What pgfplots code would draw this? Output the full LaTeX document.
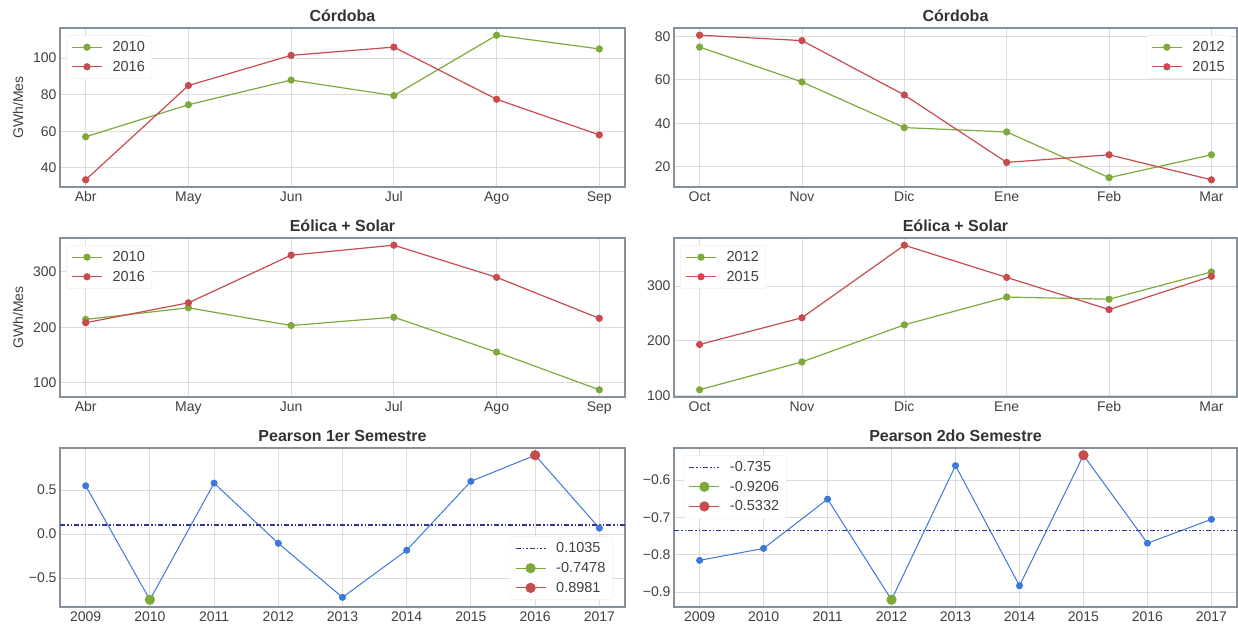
\documentclass[border=0pt]{standalone}
\usepackage{fontspec}
\setmainfont{Liberation Sans}
\usepackage{pgfplots}
\pgfplotsset{compat=1.18}

\definecolor{cgreen}{HTML}{7DAA3A}
\definecolor{cred}{HTML}{C84B4D}
\definecolor{cblue}{HTML}{3C78D8}
\definecolor{cnavy}{HTML}{34349A}
\definecolor{cgrid}{HTML}{DCDCDC}
\definecolor{cspine}{HTML}{86909B}
\definecolor{ctext}{HTML}{404040}
\definecolor{ctitle}{HTML}{333333}

\pgfplotsset{
  panel/.style={
    scale only axis, width=565pt, height=159pt,
    anchor=south west,
    /pgf/number format/assume math mode=true,
    axis line style={cspine, line width=1.2pt},
    grid=major, major grid style={cgrid, line width=0.9pt},
    major tick length=0pt,
    tick label style={font=\fontsize{14}{16}\selectfont, text=ctext},
    xticklabel style={yshift=-1pt},
    every axis title/.style={font=\fontsize{16}{18}\selectfont\bfseries, text=ctitle,
      at={(0.5,1)}, anchor=base, yshift=6pt},
    every axis y label/.style={at={(axis description cs:-0.0743,0.5)}, rotate=90,
      anchor=center, font=\fontsize{14}{16}\selectfont, text=ctext},
    legend cell align=left,
    legend style={font=\fontsize{14.5}{17}\selectfont, text=ctext, draw=black!7,
      fill=white, rounded corners=2.5pt, inner xsep=5pt, inner ysep=4pt, row sep=4pt},
    legend image code/.code={%
      \draw[mark repeat=2, mark phase=2] plot coordinates {(0pt,0pt) (15pt,0pt) (30pt,0pt)};
      \path (38pt,0pt);},
    every axis plot/.append style={line width=1.2pt, mark=*, mark size=3pt},
  },
  months/.style={xmin=-0.25, xmax=5.25, xtick={0,1,2,3,4,5}},
  years/.style={xmin=-0.4, xmax=8.4, xtick={0,1,2,3,4,5,6,7,8},
    xticklabels={2009,2010,2011,2012,2013,2014,2015,2016,2017}},
  meanline/.style={cnavy, line width=1.1pt, mark=none,
    dash pattern=on 5pt off 2pt on 1.5pt off 2pt on 1.5pt off 2pt},
  corr/.style={cblue, line width=1pt, mark size=3pt, forget plot},
  extreme/.style={mark size=4.5pt},
}

\begin{document}
\begin{tikzpicture}[x=1pt,y=1pt]
\useasboundingbox (0,0) rectangle (1238,631);

% ---- Córdoba, first semester ----
\begin{axis}[panel, months, at={(60pt,444pt)}, title={Córdoba}, ylabel={GWh/Mes},
  ymin=29.55, ymax=116.45, ytick={40,60,80,100},
  xticklabels={Abr,May,Jun,Jul,Ago,Sep},
  legend style={at={(0.011,0.955)}, anchor=north west}]
\addplot[cgreen] coordinates {(0,57) (1,74.5) (2,88) (3,79.5) (4,112.5) (5,105)};
\addlegendentry{2010}
\addplot[cred] coordinates {(0,33.5) (1,85) (2,101.5) (3,106) (4,77.5) (5,58)};
\addlegendentry{2016}
\end{axis}

% ---- Córdoba, second semester ----
\begin{axis}[panel, months, at={(674pt,444pt)}, width=563pt, title={Córdoba},
  ymin=10.7, ymax=83.8, ytick={20,40,60,80},
  xticklabels={Oct,Nov,Dic,Ene,Feb,Mar},
  legend style={at={(0.991,0.955)}, anchor=north east}]
\addplot[cgreen] coordinates {(0,75) (1,59) (2,38) (3,36) (4,15) (5,25.5)};
\addlegendentry{2012}
\addplot[cred] coordinates {(0,80.5) (1,78) (2,53) (3,22) (4,25.5) (5,14)};
\addlegendentry{2015}
\end{axis}

% ---- Eólica + Solar, first semester ----
\begin{axis}[panel, months, at={(60pt,234pt)}, title={Eólica + Solar}, ylabel={GWh/Mes},
  ymin=74, ymax=361, ytick={100,200,300},
  xticklabels={Abr,May,Jun,Jul,Ago,Sep},
  legend style={at={(0.011,0.955)}, anchor=north west}]
\addplot[cgreen] coordinates {(0,214) (1,235) (2,203) (3,218) (4,155) (5,87)};
\addlegendentry{2010}
\addplot[cred] coordinates {(0,208) (1,244) (2,330) (3,348) (4,290) (5,216)};
\addlegendentry{2016}
\end{axis}

% ---- Eólica + Solar, second semester ----
\begin{axis}[panel, months, at={(674pt,234pt)}, width=563pt, title={Eólica + Solar},
  ymin=96.75, ymax=388.25, ytick={100,200,300},
  xticklabels={Oct,Nov,Dic,Ene,Feb,Mar},
  legend style={at={(0.011,0.955)}, anchor=north west}]
\addplot[cgreen] coordinates {(0,110) (1,161) (2,229) (3,280) (4,276) (5,326)};
\addlegendentry{2012}
\addplot[cred] coordinates {(0,193) (1,242) (2,375) (3,316) (4,257) (5,318)};
\addlegendentry{2015}
\end{axis}

% ---- Pearson, first semester ----
\begin{axis}[panel, years, at={(60pt,24pt)}, title={Pearson 1er Semestre},
  ymin=-0.830, ymax=0.980, ytick={-0.5,0,0.5}, yticklabels={−0.5,0.0,0.5},
  legend style={at={(0.978,0.045)}, anchor=south east}]
\addplot[corr] coordinates {
  (0,0.55) (1,-0.7478) (2,0.58) (3,-0.105) (4,-0.72) (5,-0.184) (6,0.60) (7,0.8981) (8,0.068)};
\addplot[meanline] coordinates {(-0.4,0.1035) (8.4,0.1035)};
\addlegendentry{0.1035}
\addplot[cgreen, extreme] coordinates {(1,-0.7478)};
\addlegendentry{-0.7478}
\addplot[cred, extreme] coordinates {(7,0.8981)};
\addlegendentry{0.8981}
\end{axis}

% ---- Pearson, second semester ----
\begin{axis}[panel, years, at={(674pt,24pt)}, width=563pt, title={Pearson 2do Semestre},
  ymin=-0.94, ymax=-0.5138, ytick={-0.9,-0.8,-0.7,-0.6}, yticklabels={−0.9,−0.8,−0.7,−0.6},
  legend style={at={(0.017,0.955)}, anchor=north west}]
\addplot[corr] coordinates {
  (0,-0.815) (1,-0.783) (2,-0.651) (3,-0.9206) (4,-0.561) (5,-0.883) (6,-0.5332) (7,-0.769) (8,-0.705)};
\addplot[meanline] coordinates {(-0.4,-0.735) (8.4,-0.735)};
\addlegendentry{-0.735}
\addplot[cgreen, extreme] coordinates {(3,-0.9206)};
\addlegendentry{-0.9206}
\addplot[cred, extreme] coordinates {(6,-0.5332)};
\addlegendentry{-0.5332}
\end{axis}
\end{tikzpicture}
\end{document}
